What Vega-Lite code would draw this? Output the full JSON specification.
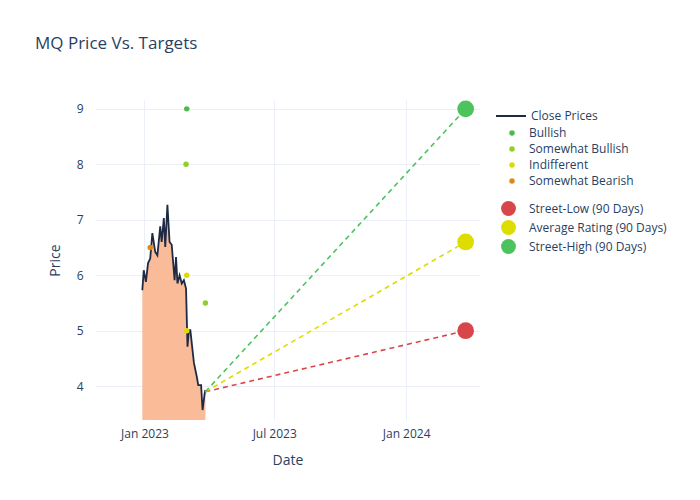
{
  "$schema": "https://vega.github.io/schema/vega-lite/v6.json",
  "autosize": "none",
  "padding": {"left": 95, "top": 100, "right": 220, "bottom": 80},
  "width": 385,
  "height": 320,
  "background": "white",
  "title": {"text": "MQ Price Vs. Targets", "anchor": "start", "frame": "group", "dx": -60, "offset": 47, "fontSize": 17, "font": "Open Sans", "fontWeight": "normal", "color": "#2a3f5f"},
  "config": {
    "view": {"stroke": null},
    "axis": {"gridColor": "#ebf0f8", "domain": false, "ticks": false, "labelFont": "Open Sans", "titleFont": "Open Sans", "labelColor": "#2a3f5f", "titleColor": "#2a3f5f", "labelFontSize": 12, "titleFontSize": 14, "titleFontWeight": "normal"},
    "legend": {"labelFont": "Open Sans", "labelFontSize": 12, "labelColor": "#2a3f5f"}
  },
  "datasets": {
    "price": [
      {"date": "2022-12-29", "close": 5.73}, {"date": "2022-12-31", "close": 6.09}, {"date": "2023-01-03", "close": 5.88},
      {"date": "2023-01-06", "close": 6.22}, {"date": "2023-01-09", "close": 6.3}, {"date": "2023-01-12", "close": 6.76},
      {"date": "2023-01-16", "close": 6.42}, {"date": "2023-01-19", "close": 6.36}, {"date": "2023-01-23", "close": 6.88},
      {"date": "2023-01-25", "close": 6.6}, {"date": "2023-01-28", "close": 7.03}, {"date": "2023-01-30", "close": 6.51},
      {"date": "2023-02-02", "close": 7.27}, {"date": "2023-02-05", "close": 6.6}, {"date": "2023-02-08", "close": 6.55},
      {"date": "2023-02-12", "close": 5.91}, {"date": "2023-02-14", "close": 6.33}, {"date": "2023-02-16", "close": 5.85},
      {"date": "2023-02-19", "close": 6.0}, {"date": "2023-02-22", "close": 5.85}, {"date": "2023-02-25", "close": 5.91},
      {"date": "2023-02-28", "close": 5.76}, {"date": "2023-03-02", "close": 4.71}, {"date": "2023-03-04", "close": 5.01},
      {"date": "2023-03-06", "close": 5.01}, {"date": "2023-03-08", "close": 4.77}, {"date": "2023-03-11", "close": 4.42},
      {"date": "2023-03-15", "close": 4.17}, {"date": "2023-03-17", "close": 4.02}, {"date": "2023-03-21", "close": 4.02},
      {"date": "2023-03-23", "close": 3.57}, {"date": "2023-03-26", "close": 3.87}, {"date": "2023-03-27", "close": 3.93}
    ],
    "ratings": [
      {"date": "2023-03-01", "target": 9, "rating": "Bullish"},
      {"date": "2023-02-28", "target": 8, "rating": "Somewhat Bullish"},
      {"date": "2023-03-27", "target": 5.5, "rating": "Somewhat Bullish"},
      {"date": "2023-03-01", "target": 6, "rating": "Indifferent"},
      {"date": "2023-03-01", "target": 5, "rating": "Indifferent"},
      {"date": "2023-01-09", "target": 6.5, "rating": "Somewhat Bearish"}
    ],
    "targets": [
      {"date": "2023-03-27", "value": 3.9, "series": "Street-Low (90 Days)"},
      {"date": "2024-03-24", "value": 5.0, "series": "Street-Low (90 Days)"},
      {"date": "2023-03-27", "value": 3.9, "series": "Average Rating (90 Days)"},
      {"date": "2024-03-24", "value": 6.6, "series": "Average Rating (90 Days)"},
      {"date": "2023-03-27", "value": 3.9, "series": "Street-High (90 Days)"},
      {"date": "2024-03-24", "value": 9.0, "series": "Street-High (90 Days)"}
    ],
    "ends": [
      {"date": "2024-03-24", "value": 5.0, "series": "Street-Low (90 Days)"},
      {"date": "2024-03-24", "value": 6.6, "series": "Average Rating (90 Days)"},
      {"date": "2024-03-24", "value": 9.0, "series": "Street-High (90 Days)"}
    ]
  },
  "encoding": {
    "x": {"field": "date", "type": "temporal", "title": "Date",
      "scale": {"domain": ["2022-10-24", "2024-04-13"]},
      "axis": {"values": ["2023-01-01", "2023-07-01", "2024-01-01"], "format": "%b %Y", "labelPadding": 8, "titlePadding": 14}}
  },
  "layer": [
    {
      "data": {"name": "price"},
      "mark": {"type": "area", "color": "#f9bb98", "opacity": 1, "clip": true},
      "encoding": {"y": {"field": "close", "type": "quantitative", "title": "Price", "scale": {"domain": [3.39, 9.16], "zero": false, "nice": false}, "axis": {"values": [4, 5, 6, 7, 8, 9], "labelPadding": 12, "titlePadding": 14}}}
    },
    {
      "data": {"name": "price"},
      "mark": {"type": "line", "strokeWidth": 1.8, "clip": true},
      "encoding": {
        "y": {"field": "close", "type": "quantitative"},
        "color": {"datum": "Close Prices", "type": "nominal", "scale": {"domain": ["Close Prices"], "range": ["#1f2a44"]}, "legend": {"title": null, "orient": "none", "legendX": 400, "legendY": 0, "symbolType": "stroke", "symbolStrokeWidth": 2, "symbolSize": 900, "labelOffset": 4}}
      }
    },
    {
      "data": {"name": "targets"},
      "mark": {"type": "line", "strokeDash": [5, 4], "strokeWidth": 1.6},
      "encoding": {
        "y": {"field": "value", "type": "quantitative"},
        "detail": {"field": "series"},
        "stroke": {"field": "series", "type": "nominal", "scale": {"domain": ["Street-Low (90 Days)", "Average Rating (90 Days)", "Street-High (90 Days)"], "range": ["#d9464a", "#dddd00", "#4cc35c"]}, "legend": null}
      }
    },
    {
      "data": {"name": "ratings"},
      "mark": {"type": "circle", "size": 30, "opacity": 1},
      "encoding": {
        "y": {"field": "target", "type": "quantitative"},
        "fill": {"field": "rating", "type": "nominal", "scale": {"domain": ["Bullish", "Somewhat Bullish", "Indifferent", "Somewhat Bearish"], "range": ["#4cbb4c", "#8fcf2a", "#dcdc00", "#dc8a1a"]}, "legend": {"title": null, "orient": "none", "legendX": 411, "legendY": 27, "symbolType": "circle", "symbolSize": 30, "symbolOpacity": 1, "labelOffset": 11, "rowPadding": 4}}
      }
    },
    {
      "data": {"name": "ends"},
      "mark": {"type": "circle", "size": 280, "opacity": 1},
      "encoding": {
        "y": {"field": "value", "type": "quantitative"},
        "color": {"field": "series", "type": "nominal", "scale": {"domain": ["Street-Low (90 Days)", "Average Rating (90 Days)", "Street-High (90 Days)"], "range": ["#d9464a", "#dddd00", "#4cc35c"]}, "legend": {"title": null, "orient": "none", "legendX": 405, "legendY": 100, "symbolType": "circle", "symbolSize": 220, "symbolOpacity": 1, "rowPadding": 3, "labelOffset": 12}}
      }
    }
  ],
  "resolve": {"scale": {"color": "independent", "fill": "independent", "stroke": "independent"}}
}
